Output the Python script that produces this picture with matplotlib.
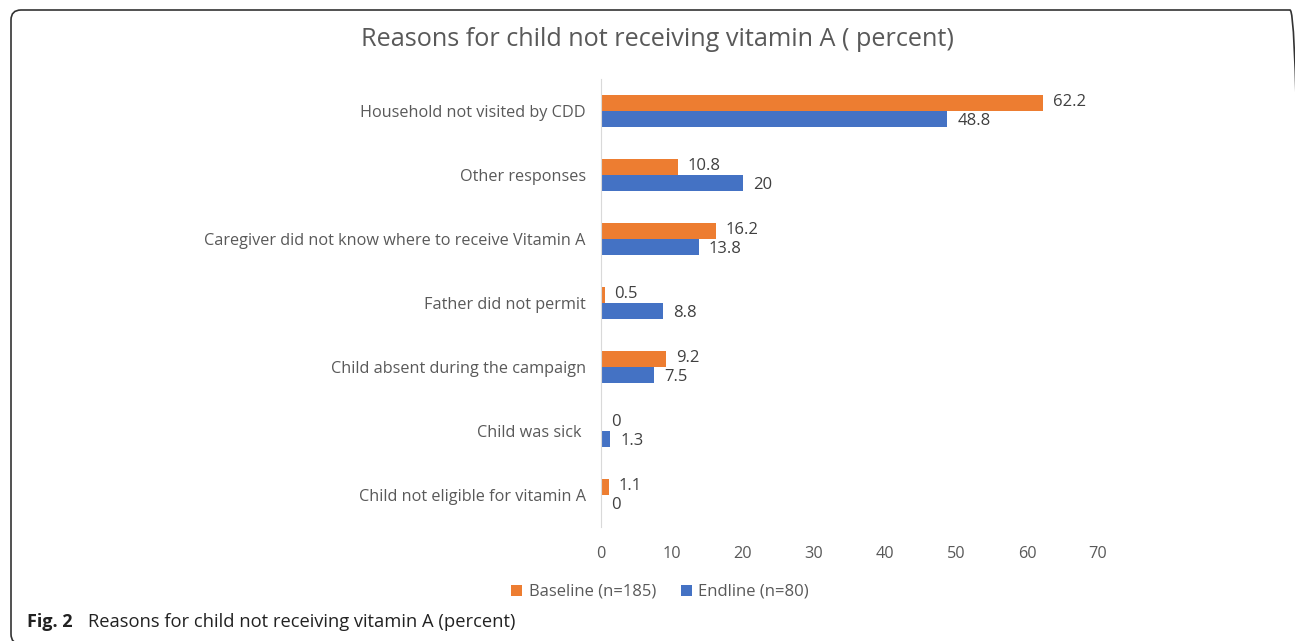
import matplotlib.pyplot as plt
from matplotlib.patches import FancyBboxPatch
import numpy as np

plt.rcParams['font.family'] = ['Open Sans', 'DejaVu Sans']

categories = ["Household not visited by CDD", "Other responses",
              "Caregiver did not know where to receive Vitamin A",
              "Father did not permit", "Child absent during the campaign",
              "Child was sick ", "Child not eligible for vitamin A"]
baseline = [62.2, 10.8, 16.2, 0.5, 9.2, 0, 1.1]
endline = [48.8, 20, 13.8, 8.8, 7.5, 1.3, 0]
baseline_labels = ["62.2", "10.8", "16.2", "0.5", "9.2", "0", "1.1"]
endline_labels = ["48.8", "20", "13.8", "8.8", "7.5", "1.3", "0"]

orange = "#ED7D31"
blue = "#4472C4"
grey = "#595959"

fig = plt.figure(figsize=(12.95, 6.41), dpi=100)

# frame around chart in pixel coords (right and bottom edges run off the picture)
frame = FancyBboxPatch((11, -3), 1289, 634,
                       boxstyle="round,pad=0,rounding_size=10",
                       transform=None, fill=False,
                       edgecolor="#333333", linewidth=1.2)
fig.patches.append(frame)

ax = fig.add_axes([601 / 1295, 1 - 527 / 641, 497 / 1295, 448 / 641])
y = np.arange(len(categories))
h = 0.25
ax.barh(y - h / 2, baseline, height=h, color=orange, label="Baseline (n=185)")
ax.barh(y + h / 2, endline, height=h, color=blue, label="Endline (n=80)")

for yi, v, s in zip(y, baseline, baseline_labels):
    ax.text(v + 1.4, yi - h / 2 - 0.02, s, va="center", ha="left", fontsize=12, color="#404040")
for yi, v, s in zip(y, endline, endline_labels):
    ax.text(v + 1.4, yi + h / 2 + 0.03, s, va="center", ha="left", fontsize=12, color="#404040")

ax.set_xlim(0, 70)
ax.set_ylim(len(categories) - 0.5, -0.5)
ax.set_xticks(range(0, 71, 10))
ax.set_yticks(y)
ax.set_yticklabels(categories)
ax.tick_params(axis="both", length=0, labelsize=11.7, labelcolor=grey)
ax.tick_params(axis="x", pad=14)
ax.tick_params(axis="y", pad=11)
for side in ["top", "right", "bottom"]:
    ax.spines[side].set_visible(False)
ax.spines["left"].set_color("#d9d9d9")

fig.text(657.5 / 1295, 1 - 39 / 641, "Reasons for child not receiving vitamin A ( percent)",
         ha="center", va="center", fontsize=18.2, color=grey)

ax.legend(loc="center", bbox_to_anchor=(660 / 1295, 1 - 592 / 641),
          bbox_transform=fig.transFigure, ncol=2, frameon=False,
          fontsize=12, labelcolor=grey, handlelength=0.65, handleheight=0.65,
          handletextpad=0.4, columnspacing=1.5)

fig.text(27 / 1295, 1 - 622 / 641, "Fig. 2", ha="left", va="center",
         fontsize=13, fontweight="bold", color="#222222")
fig.text(88 / 1295, 1 - 622 / 641, "Reasons for child not receiving vitamin A (percent)",
         ha="left", va="center", fontsize=13.2, color="#222222")

fig.savefig("out.png", dpi=100)
